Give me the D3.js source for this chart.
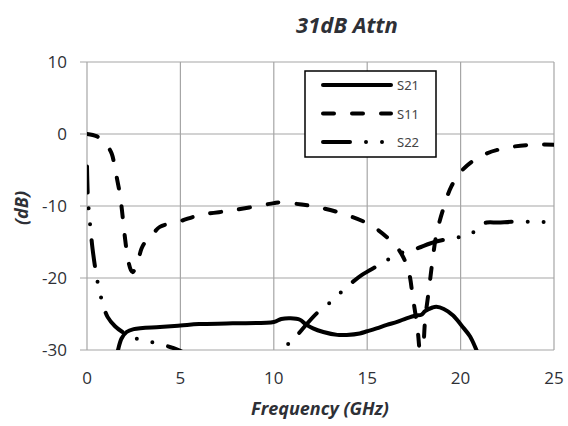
<!DOCTYPE html>
<html>
<head>
<meta charset="utf-8">
<script src="https://cdn.jsdelivr.net/npm/d3@7"></script>
<style>
  body { margin: 0; background: #fff; }
  svg { display: block; overflow: visible; }
  text { font-family: "Open Sans", sans-serif; }
</style>
</head>
<body>
<div id="chart-container"></div>
<script>
// x ticks / y ticks
const xTicks = [0, 5, 10, 15, 20, 25];
const yTicks = [10, 0, -10, -20, -30];

// S21 (solid)
const s21Freq = [1.4, 1.66, 1.85, 2.12, 2.5, 3.9, 5, 6, 7.8, 10, 10.4, 10.9, 11.4, 11.7, 12.1, 12.65, 13.4, 13.9, 14.6, 15, 15.5, 16.05, 16.6, 17.1, 17.6, 17.9, 18.1, 18.5, 18.7, 19.1, 19.6, 20.05, 20.5, 20.85, 21.2];
const s21Db = [-33, -30, -28.4, -27.5, -27.1, -26.8, -26.6, -26.4, -26.3, -26.1, -25.7, -25.6, -25.8, -26.4, -27.0, -27.5, -27.9, -27.9, -27.7, -27.4, -27.0, -26.5, -26.1, -25.6, -25.2, -25.1, -24.6, -24.1, -24.0, -24.3, -25.2, -26.6, -28.1, -30, -32];

// S11 (dashed)
const s11Freq = [0, 0.5, 0.8, 1.05, 1.32, 1.5, 1.62, 1.75, 1.85, 1.95, 2.05, 2.2, 2.35, 2.45, 2.55, 2.7, 2.92, 3.2, 3.55, 3.9, 5, 6.05, 7.8, 10, 10.3, 11.5, 12.6, 13.9, 15.15, 16.04, 16.75, 17.2, 17.45, 17.7, 17.8, 17.9, 18.0, 18.1, 18.3, 18.5, 18.7, 19.05, 19.5, 20.1, 21.1, 22.3, 23.8, 25];
const s11Db = [0, -0.3, -0.8, -1.5, -2.7, -4.8, -6.4, -8.2, -10.1, -12.5, -14.8, -17.5, -18.9, -19.2, -18.8, -18, -15.9, -14.7, -13.8, -12.9, -12.1, -11.25, -10.6, -9.6, -9.5, -9.8, -10.3, -11.25, -12.6, -14.3, -16.3, -18.9, -22.8, -27.2, -30, -32, -30, -25.8, -21.7, -17.5, -14, -10.6, -7.3, -5, -3.05, -2.0, -1.5, -1.5];

// S22 (dash dot dot)
const s22Freq = [0, 0.05, 0.12, 0.2, 0.3, 0.5, 0.65, 0.85, 1.1, 1.5, 1.9, 2.4, 3.1, 3.8, 4.9, 6, 9.5, 10.3, 11.05, 11.4, 12.3, 13.3, 13.7, 14.2, 14.7, 15.7, 16.2, 16.7, 17.55, 18.6, 19.5, 20.2, 20.7, 21.0, 21.4, 22, 22.7, 23.6, 24.4, 25];
const s22Db = [-4.5, -9, -11.3, -13.5, -16, -19.6, -21.6, -23.6, -25.4, -26.7, -27.5, -28.2, -28.7, -29.1, -30, -31.5, -32, -30, -28.6, -27.5, -24.9, -22.8, -21.7, -20.6, -19.6, -18.1, -17.3, -16.6, -16.0, -15.0, -14.5, -14.2, -13.6, -12.7, -12.3, -12.3, -12.2, -12.2, -12.2, -12.4];

const width = 568;
const height = 426;
const margin = { top: 62, right: 14, bottom: 76, left: 87 };
const innerWidth = 467;
const innerHeight = 288;

const series = [
  { name: "S21", freq: s21Freq, db: s21Db, dash: null },
  { name: "S11", freq: s11Freq, db: s11Db, dash: "11,18" },
  { name: "S22", freq: s22Freq, db: s22Db, dash: "26,16,0,16,0,16" }
];

const svg = d3.select('#chart-container').append('svg')
  .attr('width', width)
  .attr('height', height);

const xScale = d3.scaleLinear()
  .domain([0, 25])
  .range([margin.left, margin.left + innerWidth]);

const yScale = d3.scaleLinear()
  .domain([-30, 10])
  .range([margin.top + innerHeight, margin.top]);

const gridColor = "#a6a6a6";

// gridlines
svg.append('g').selectAll('line')
  .data(yTicks)
  .enter().append('line')
  .attr('x1', xScale(0) - 7)
  .attr('x2', xScale(25))
  .attr('y1', d => yScale(d))
  .attr('y2', d => yScale(d))
  .attr('stroke', gridColor)
  .attr('stroke-width', 1.2);

svg.append('g').selectAll('line')
  .data(xTicks)
  .enter().append('line')
  .attr('x1', d => xScale(d))
  .attr('x2', d => xScale(d))
  .attr('y1', yScale(10))
  .attr('y2', yScale(-30))
  .attr('stroke', gridColor)
  .attr('stroke-width', 1.2);

// tick labels
svg.append('g').selectAll('text')
  .data(yTicks)
  .enter().append('text')
  .attr('x', 67)
  .attr('y', d => yScale(d) + 6)
  .attr('text-anchor', 'end')
  .attr('font-size', 17)
  .attr('fill', '#2e3036')
  .text(d => d);

svg.append('g').selectAll('text')
  .data(xTicks)
  .enter().append('text')
  .attr('x', d => xScale(d))
  .attr('y', 384)
  .attr('text-anchor', 'middle')
  .attr('font-size', 17)
  .attr('fill', '#2e3036')
  .text(d => d);

// clip to plot area
svg.append('clipPath').attr('id', 'plot-clip')
  .append('rect')
  .attr('x', margin.left)
  .attr('y', margin.top)
  .attr('width', innerWidth)
  .attr('height', innerHeight);

const line = d3.line()
  .x(d => xScale(d[0]))
  .y(d => yScale(d[1]))
  .curve(d3.curveCatmullRom.alpha(0.5));

svg.append('g').attr('clip-path', 'url(#plot-clip)')
  .selectAll('path')
  .data(series)
  .enter().append('path')
  .attr('d', s => line(s.freq.map((f, i) => [f, s.db[i]])))
  .attr('fill', 'none')
  .attr('stroke', '#000')
  .attr('stroke-width', 4)
  .attr('stroke-linecap', 'round')
  .attr('stroke-linejoin', 'round')
  .attr('stroke-dasharray', s => s.dash);

// legend
const legend = svg.append('g').attr('transform', 'translate(305,71)');
legend.append('rect')
  .attr('width', 131)
  .attr('height', 86)
  .attr('fill', '#fff')
  .attr('stroke', '#000')
  .attr('stroke-width', 1.5);

const items = legend.selectAll('g.item')
  .data(series)
  .enter().append('g')
  .attr('class', 'item')
  .attr('transform', (d, i) => `translate(0,${14 + i * 28.5})`);

items.append('line')
  .attr('x1', 18)
  .attr('x2', 86)
  .attr('stroke', '#000')
  .attr('stroke-width', 4)
  .attr('stroke-linecap', 'round')
  .attr('stroke-dasharray', d => d.name === "S11" ? "11,18" : d.name === "S22" ? "27,16,0,16,0,16" : null);

items.append('text')
  .attr('x', 92)
  .attr('y', 5)
  .attr('font-size', 13)
  .attr('fill', '#444')
  .style('font-family', '"Noto Sans", sans-serif')
  .text(d => d.name);

// titles
svg.append('text')
  .attr('x', 347)
  .attr('y', 33)
  .attr('text-anchor', 'middle')
  .attr('font-size', 22)
  .attr('font-weight', 'bold')
  .attr('font-style', 'italic')
  .attr('fill', '#2e3036')
  .text('31dB Attn');

svg.append('text')
  .attr('x', 320)
  .attr('y', 415)
  .attr('text-anchor', 'middle')
  .attr('font-size', 18)
  .attr('font-weight', 'bold')
  .attr('font-style', 'italic')
  .attr('fill', '#2e3036')
  .text('Frequency (GHz)');

svg.append('text')
  .attr('transform', 'translate(28,208) rotate(-90)')
  .attr('text-anchor', 'middle')
  .attr('font-size', 18)
  .attr('font-weight', 'bold')
  .attr('font-style', 'italic')
  .attr('fill', '#2e3036')
  .text('(dB)');
</script>
</body>
</html>
